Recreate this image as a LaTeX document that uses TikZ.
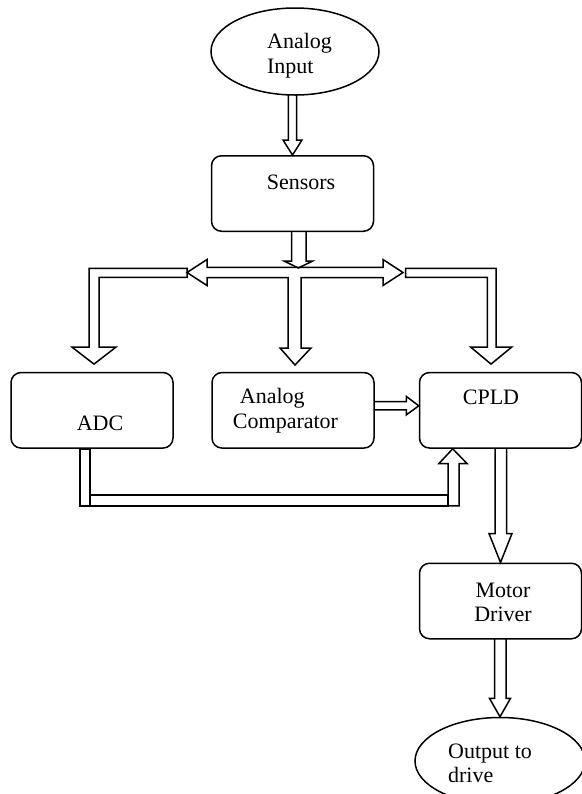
\documentclass[tikz,border=0pt]{standalone}
\usepackage{fontspec}
\setmainfont{Liberation Serif}
\usetikzlibrary{shapes.geometric,calc}

\begin{document}
\begin{tikzpicture}[x=0.5pt, y=-0.5pt, line width=0.75pt,
  blk/.style={rectangle, draw, rounded corners=5pt, minimum width=81pt, minimum height=37.75pt},
  oval/.style={ellipse, draw, minimum width=84pt, minimum height=43.5pt},
  txt/.style={align=left, font=\fontsize{11}{12.25}\selectfont},
  pipe/.style={draw, line join=miter}]

\useasboundingbox (0,0) rectangle (582,794);

% blocks
\node[oval, label={[txt, shift={(4.5,4)}]center:Analog\\Input}] (ain) at (295,51.5) {};
\node[blk, label={[txt, shift={(8.5,-11.5)}]center:Sensors}] (sens) at (292.5,193.5) {};
\node[blk, label={[txt, shift={(8,13)}]center:ADC}] (adc) at (92,410.3) {};
\node[blk, label={[txt, shift={(-7.5,0.5)}]center:\hspace*{3.5pt}Analog\\Comparator}] (comp) at (293,410.3) {};
\node[blk, label={[txt, shift={(-9.5,-12.5)}]center:CPLD}] (cpld) at (500.5,410.3) {};
\node[blk, label={[txt, align=center, shift={(2.5,1.5)}]center:Motor\\Driver}] (motor) at (500.5,601) {};
\node[oval, minimum width=85pt, label={[txt, shift={(-10,2.4)}]center:Output to\\drive}] (out) at (500,761) {};
\coordinate (hub) at (295,272.5);

% Analog Input -> Sensors
\draw[pipe, shift={(sens.north)}] (-4.2,-60) -- (-4.2,-15) -- (-9.5,-15) -- (0,0) -- (9.5,-15) -- (4.2,-15) -- (4.2,-60);
% Sensors -> bus
\draw[pipe, shift={(sens.south)}] (-0.8,0) -- (-0.8,29) -- (-8.5,29) -- (5.8,36) -- (20.2,29) -- (13.5,29) -- (13.5,0);
% bus, middle branch to comparator
\draw[pipe, shift={(hub)}] (-108,0) -- (-88,-13) -- (-88,-5.2) -- (88,-5.2) -- (88,-13) -- (108,0)
      -- (88,13) -- (88,5.2) -- (6,5.2) -- (6,75.5) -- (16,75.5) -- (0,92.5) -- (-15,75.5)
      -- (-7,75.5) -- (-7,5.2) -- (-88,5.2) -- (-88,13) -- cycle;
% left branch to ADC, right branch to CPLD
\draw[pipe, shift={(adc.north)}] (95,-103.4) -- (-3,-103.4) -- (-3,-24.7) -- (-20,-24.7) -- (2,-7.7)
      -- (24,-24.7) -- (7,-24.7) -- (7,-94.4) -- (95,-94.4) -- cycle;
\draw[pipe, shift={(cpld.north)}] (-94.8,-103.4) -- (-4.5,-103.4) -- (-4.5,-24.7) -- (11.2,-24.7) -- (-9.5,-7.7)
      -- (-29.8,-24.7) -- (-13.2,-24.7) -- (-13.2,-94.4) -- (-94.8,-94.4) -- cycle;
% Analog Comparator -> CPLD
\draw[pipe, shift={(cpld.west)}] (-44,-8.8) -- (-12.3,-8.8) -- (-12.3,-13.8) -- (0,-4.5) -- (-12.3,4.5) -- (-12.3,-0.5) -- (-44,-0.5);
% ADC -> CPLD
\draw[pipe, shift={(adc.south)}] (-12,0) rectangle (-2,57);
\draw[pipe] ($(adc.south)+(-2,46)$) rectangle ($(cpld.south)+(-52.5,57)$);
\draw[pipe, shift={(cpld.south)}] (-52.5,57) -- (-52.5,14.7) -- (-61.5,14.7) -- (-47.8,0) -- (-33.5,14.7) -- (-41.5,14.7) -- (-41.5,57) -- cycle;
% CPLD -> Motor Driver -> Output
\draw[pipe, shift={(motor.north)}] (-5.5,-114.5) -- (-5.5,-29) -- (-11.5,-29) -- (0,0) -- (11.5,-29) -- (6.2,-29) -- (6.2,-114.5);
\draw[pipe, shift={(out.north)}] (-5.5,-78) -- (-5.5,-18.4) -- (-10.5,-18.4) -- (0,0) -- (10.5,-18.4) -- (6.2,-18.4) -- (6.2,-78);
\end{tikzpicture}
\end{document}
